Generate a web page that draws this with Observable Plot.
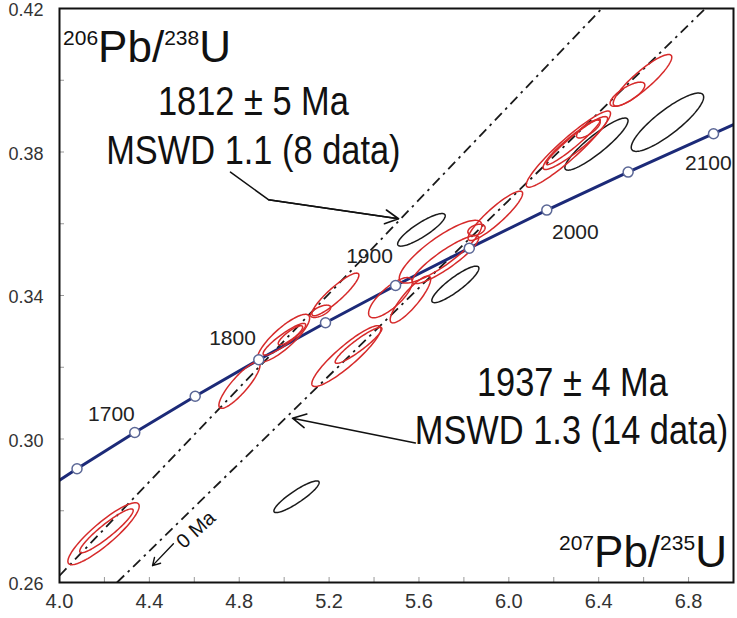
<!DOCTYPE html>
<html><head><meta charset="utf-8">
<script src="https://cdn.jsdelivr.net/npm/d3@7"></script>
<script src="https://cdn.jsdelivr.net/npm/@observablehq/plot@0.6"></script>
<style>
html,body{margin:0;padding:0;background:#fff;}
#chart{width:737px;height:618px;}
</style></head><body><div id="chart"></div>
<script>
// ---- axes ----
const xDomain = [4.0, 7.0];
const yDomain = [0.26, 0.42];
const xTickLabels = [4.0, 4.4, 4.8, 5.2, 5.6, 6.0, 6.4, 6.8];
const xMinorTicks = [4.2, 4.4, 4.6, 4.8, 5.0, 5.2, 5.4, 5.6, 5.8, 6.0, 6.2, 6.4, 6.6, 6.8];
const yTickLabels = [0.26, 0.30, 0.34, 0.38, 0.42];
const yMinorTicks = [0.28, 0.30, 0.32, 0.34, 0.36, 0.38, 0.40];

// ---- concordia (age markers every 50 Ma) ----
const concAge = [1650, 1700, 1750, 1800, 1850, 1900, 1950, 2000, 2050, 2100];
const concX = [4.078, 4.335, 4.604, 4.887, 5.184, 5.496, 5.824, 6.169, 6.531, 6.911];
const concY = [0.2917, 0.3018, 0.3119, 0.3221, 0.3324, 0.3428, 0.3532, 0.3638, 0.3744, 0.3851];
const concEndX = [4.0, 7.0];
const concEndY = [0.2885, 0.3876];

// age labels
const ageLabel = ["1700", "1800", "1900", "2000", "2100"];
const ageLabelX = [4.231, 4.770, 5.380, 6.296, 6.888];
const ageLabelY = [0.3069, 0.3281, 0.3508, 0.3575, 0.3769];

// ---- discordia lines (0 Ma lower intercept) ----
const discName = ["1812 Ma", "1937 Ma"];
const discX1 = [4.0, 4.256];
const discY1 = [0.2619, 0.26];
const discX2 = [6.414, 6.875];
const discY2 = [0.42, 0.42];

// ---- analyses: 207Pb/235U, 206Pb/238U, half-extents, error correlation ----
const ellX   = [4.196, 4.209, 4.801, 4.997, 5.001, 5.028, 5.228, 5.162,
                5.277, 5.331, 5.473, 5.562, 5.696, 5.718, 5.856, 5.940, 6.265, 6.296, 6.287, 6.354, 6.528, 6.595,
                5.055, 5.611, 5.762, 6.390, 6.706];
const ellY   = [0.2736, 0.2744, 0.3150, 0.3281, 0.3278, 0.3289, 0.3403, 0.3356,
                0.3231, 0.3261, 0.3394, 0.3389, 0.3522, 0.3500, 0.3583, 0.3622, 0.3808, 0.3825, 0.3828, 0.3864, 0.3961, 0.4000,
                0.2839, 0.3583, 0.3431, 0.3822, 0.3883];
const ellSX  = [0.1587, 0.1190, 0.0916, 0.1163, 0.0947, 0.0544, 0.1046, 0.0452,
                0.1539, 0.1041, 0.0973, 0.0901, 0.1837, 0.1476, 0.0384, 0.1214, 0.1876, 0.1436, 0.1202, 0.0526, 0.0773, 0.1303,
                0.1007, 0.1059, 0.1048, 0.1406, 0.1612];
const ellSY  = [0.00863, 0.00611, 0.00646, 0.00665, 0.00442, 0.00266, 0.00594, 0.00172,
                0.00847, 0.00500, 0.00560, 0.00654, 0.00875, 0.00669, 0.00156, 0.00689, 0.01061, 0.00737, 0.00634, 0.00250, 0.00338, 0.00718,
                0.00442, 0.00454, 0.00509, 0.00726, 0.00813];
const ellRho = [0.890, 0.927, 0.865, 0.840, 0.907, 0.858, 0.902, 0.615,
                0.904, 0.925, 0.772, 0.864, 0.843, 0.893, 0.371, 0.905, 0.938, 0.924, 0.959, 0.753, 0.748, 0.892,
                0.893, 0.864, 0.882, 0.900, 0.861];
const ellGroup = ["1812","1812","1812","1812","1812","1812","1812","1812",
                  "1937","1937","1937","1937","1937","1937","1937","1937","1937","1937","1937","1937","1937","1937",
                  "excluded","excluded","excluded","excluded","excluded"];

// ---- annotations ----
const annotText = ["1812 \u00B1 5 Ma", "MSWD 1.1 (8 data)", "1937 \u00B1 4 Ma", "MSWD 1.3 (14 data)"];
const annotX = [4.863, 4.863, 6.283, 6.279];
const annotY = [0.3903, 0.3767, 0.3119, 0.2986];
// pointer arrows
const pointerX = [4.761, 4.930, 5.509];
const pointerY = [0.3744, 0.3667, 0.3614];
const arrow2 = {x1: 5.584, y1: 0.2989, x2: 5.037, y2: 0.3058};
const zeroArrow = {x1: 4.507, y1: 0.2708, x2: 4.414, y2: 0.2647};
const zeroLabel = {text: "0 Ma", x: 4.6075, y: 0.2747};
const titleY = {sup1: "206", main1: "Pb/", sup2: "238", main2: "U", x: 4.018, y: 0.405};
const titleX = {sup1: "207", main1: "Pb/", sup2: "235", main2: "U", x: 6.973, y: 0.2642};

// ---- build tables ----
const conc = concAge.map((a, i) => ({age: a, x: concX[i], y: concY[i]}));
const concLine = [{x: concEndX[0], y: concEndY[0]}, ...conc, {x: concEndX[1], y: concEndY[1]}];
const ages = ageLabel.map((t, i) => ({t, x: ageLabelX[i], y: ageLabelY[i]}));
const disc = discName.map((n, i) => ({n, x1: discX1[i], y1: discY1[i], x2: discX2[i], y2: discY2[i]}));
const pointer = pointerX.map((x, i) => ({x, y: pointerY[i]}));
const annots = annotText.map((t, i) => ({t, x: annotX[i], y: annotY[i]}));

const ellPts = [];
ellX.forEach((cx, i) => {
  const sx = ellSX[i], sy = ellSY[i], r = ellRho[i], q = Math.sqrt(1 - r * r);
  const n = 96;
  for (let k = 0; k < n; k++) {
    const t = 2 * Math.PI * k / n;
    ellPts.push({id: i, g: ellGroup[i], x: cx + sx * Math.cos(t), y: ellY[i] + sy * (r * Math.cos(t) + q * Math.sin(t))});
  }
});

const FONT = "'Liberation Sans', Arial, Helvetica, sans-serif";

const plot = Plot.plot({
  width: 737,
  height: 618,
  marginLeft: 59,
  marginRight: 4,
  marginTop: 8,
  marginBottom: 36,
  x: {domain: xDomain},
  y: {domain: yDomain},
  style: {fontFamily: FONT, background: "white", color: "#222"},
  marks: [
    Plot.axisX({ticks: xTickLabels, tickSize: 0, tickPadding: 11, tickFormat: d3.format(".1f"), fontSize: 20, fill: "#333", label: null}),
    Plot.axisX({ticks: xMinorTicks, tickSize: -5, tickFormat: () => "", stroke: "#999", label: null}),
    Plot.axisY({ticks: yTickLabels, tickSize: 0, tickPadding: 16, dy: 2, tickFormat: d3.format(".2f"), fontSize: 18, fill: "#333", label: null}),
    Plot.axisY({ticks: yMinorTicks, tickSize: -5, tickFormat: () => "", stroke: "#999", label: null}),

    Plot.link(disc, {x1: "x1", y1: "y1", x2: "x2", y2: "y2", stroke: "#1a1a1a", strokeWidth: 1.8, strokeDasharray: "10,5,2.5,5", clip: true}),

    Plot.line(ellPts, {filter: d => d.g === "excluded", x: "x", y: "y", z: "id", curve: "linear-closed", stroke: "#1a1a1a", strokeWidth: 1.5}),

    Plot.line(concLine, {x: "x", y: "y", stroke: "#1c2a78", strokeWidth: 3, clip: true}),

    Plot.line(ellPts, {filter: d => d.g !== "excluded", x: "x", y: "y", z: "id", curve: "linear-closed", stroke: "#d62a2a", strokeWidth: 1.5}),

    Plot.dot(conc, {x: "x", y: "y", r: 5, fill: "white", stroke: "#5b6796", strokeWidth: 1.5}),

    Plot.text(ages, {x: "x", y: "y", text: "t", fontSize: 21, fill: "#222"}),

    Plot.text(annots, {x: "x", y: "y", text: "t", fontSize: 40, lineAnchor: "bottom", fill: "#111"}),

    Plot.line(pointer, {x: "x", y: "y", stroke: "#111", strokeWidth: 1.5}),
    Plot.arrow([pointer.slice(1)], {x1: d => d[0].x, y1: d => d[0].y, x2: d => d[1].x, y2: d => d[1].y, stroke: "#111", strokeWidth: 1.6, headLength: 14, headAngle: 55}),
    Plot.arrow([arrow2], {x1: "x1", y1: "y1", x2: "x2", y2: "y2", stroke: "#111", strokeWidth: 1.6, headLength: 14, headAngle: 55}),
    Plot.arrow([zeroArrow], {x1: "x1", y1: "y1", x2: "x2", y2: "y2", stroke: "#111", strokeWidth: 1.4, headLength: 9, headAngle: 60}),
    Plot.text([zeroLabel], {x: "x", y: "y", text: "text", rotate: -42, fontSize: 20, fill: "#111"}),

    Plot.frame({stroke: "#111", strokeWidth: 2})
  ]
});
document.getElementById("chart").append(plot);

const svg = d3.select(plot);
// condensed look of the annotation lettering (horizontal squeeze about the anchor)
svg.selectAll("text").filter(function () { return annotText.includes(this.textContent); })
  .each(function () {
    const tr = this.getAttribute("transform") || "";
    this.setAttribute("transform", tr + " scale(0.86,1)");
  });

// axis titles with superscripts
const sx = plot.scale("x"), sy = plot.scale("y");
function addTitle(o, anchor) {
  const t = svg.append("text")
    .attr("x", sx.apply(o.x)).attr("y", sy.apply(o.y))
    .attr("text-anchor", anchor)
    .attr("font-family", FONT).attr("fill", "#111");
  t.append("tspan").attr("font-size", 21).attr("dy", -17).text(o.sup1);
  t.append("tspan").attr("font-size", 44).attr("dy", 17).text(o.main1);
  t.append("tspan").attr("font-size", 21).attr("dy", -17).text(o.sup2);
  t.append("tspan").attr("font-size", 44).attr("dy", 17).text(o.main2);
}
addTitle(titleY, "start");
addTitle(titleX, "end");
</script>
</body></html>
